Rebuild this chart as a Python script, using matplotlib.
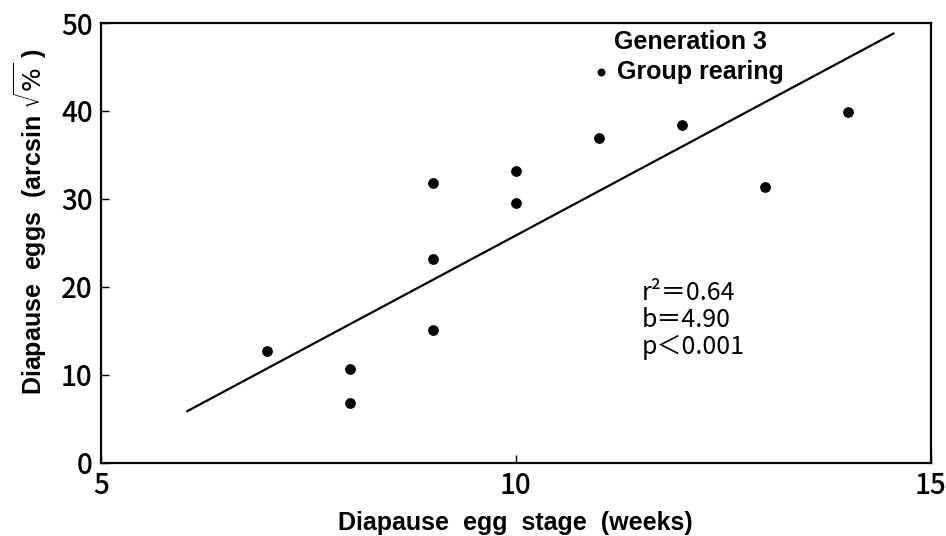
import matplotlib
matplotlib.use("Agg")
import matplotlib.pyplot as plt
import numpy as np

# diapause egg stage (weeks) vs diapause eggs (arcsin sqrt %)
weeks = [7, 8, 8, 9, 9, 9, 10, 10, 11, 12, 13, 14]
eggs = [12.7, 10.7, 6.8, 15.1, 23.2, 31.8, 29.5, 33.2, 36.9, 38.4, 31.3, 39.9]

# regression line as drawn in the figure
fit_x = [6.04, 14.55]
fit_y = [5.85, 48.8]

x_ticks = [5, 10, 15]
y_ticks = [0, 10, 20, 30, 40, 50]

narrow = ['Noto Sans CJK JP', 'DejaVu Sans']
plt.rcParams['font.family'] = ['Liberation Sans', 'DejaVu Sans']

fig = plt.figure(figsize=(9.46, 5.36), dpi=100)
ax = fig.add_axes([0.1068, 0.137, 0.877, 0.820])

ax.scatter(weeks, eggs, s=45, color='black', zorder=3, label='Group rearing')
ax.plot(fit_x, fit_y, color='black', lw=1.6)

ax.set_xlim(5, 15)
ax.set_ylim(0, 50)
ax.set_xticks(x_ticks)
ax.set_yticks(y_ticks)
ax.tick_params(direction='in', length=6, width=1, top=False, right=False, pad=6)
for lab in ax.get_xticklabels() + ax.get_yticklabels():
    lab.set_family(narrow)
    lab.set_fontsize(20)
    lab.set_fontweight('medium')
for sp in ax.spines.values():
    sp.set_linewidth(1.6)

ax.set_xlabel('Diapause  egg  stage  (weeks)', fontsize=18, fontweight='bold', labelpad=8)
ax.set_ylabel(r'Diapause  eggs  (arcsin $\sqrt{\%}$ )', fontsize=18, fontweight='bold')
ax.yaxis.set_label_coords(-0.063, 0.549)

ax.text(0.618, 0.957, 'Generation 3', transform=ax.transAxes, fontsize=18,
        fontweight='bold', va='center', ha='left')
leg = ax.legend(loc='upper left', bbox_to_anchor=(0.5916, 0.917), frameon=False,
                handlelength=0.7, handletextpad=0.3, borderpad=0,
                borderaxespad=0, markerscale=0.7, prop={'weight': 'bold', 'size': 18})

ax.text(0.652, 0.416, 'r²＝0.64\nb＝4.90\np＜0.001', transform=ax.transAxes,
        fontsize=18, va='top', ha='left', linespacing=1.05,
        family=['Noto Sans CJK JP', 'DejaVu Sans'])

fig.savefig('out.png', dpi=100)
